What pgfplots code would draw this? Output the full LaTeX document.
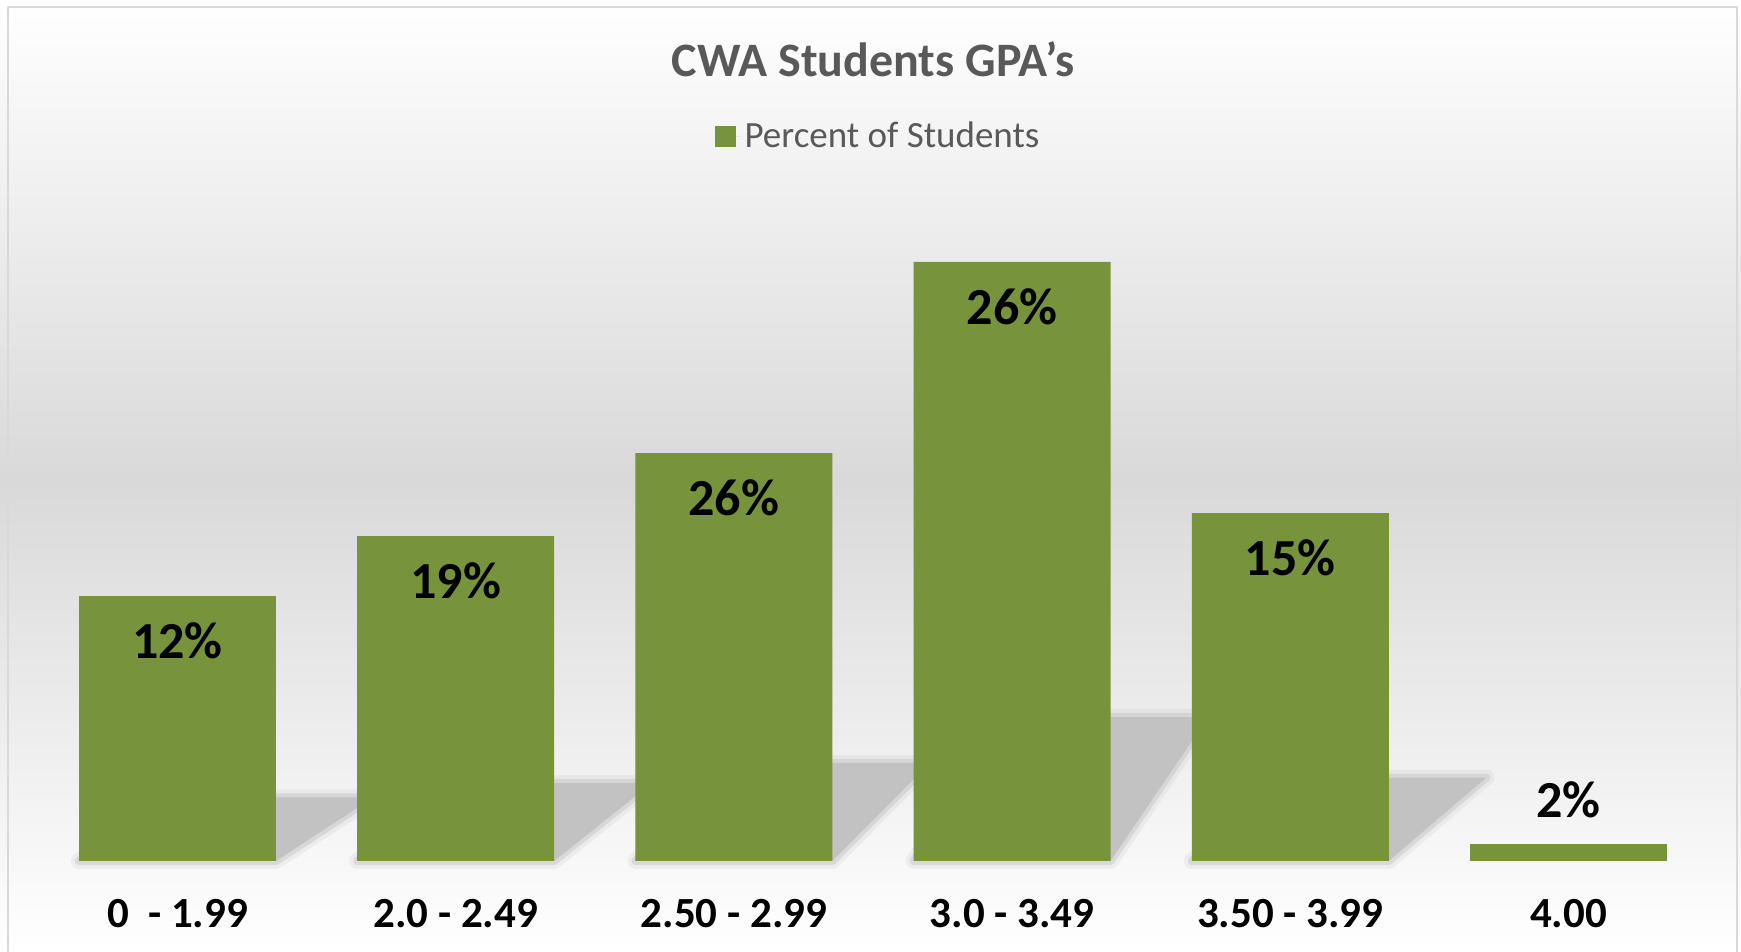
\documentclass[border=0pt]{standalone}
\usepackage{pgfplots}
\pgfplotsset{compat=1.18}
\usepackage{fontspec}
\setmainfont{Carlito}
\definecolor{barg}{RGB}{119,147,60}
\definecolor{txtg}{RGB}{89,89,89}
\definecolor{bgmid}{RGB}{217,217,217}
\definecolor{shad}{RGB}{194,194,194}
\definecolor{frm}{RGB}{217,217,217}
\pgfplotsset{
  shadowouter/.style={draw=shad, line width=8pt, draw opacity=0.2, fill=none, line join=round, forget plot},
  shadowmid/.style={draw=shad, line width=4pt, draw opacity=0.45, fill=none, line join=round, forget plot},
  shadowfill/.style={fill=shad, draw=none, forget plot},
}
\begin{document}
\begin{tikzpicture}
\path[use as bounding box] (0pt,0pt) rectangle (870.5pt,476pt);
\shade[top color=white, bottom color=bgmid] (0pt,236pt) rectangle (870.5pt,476pt);
\shade[top color=bgmid, bottom color=white] (0pt,0pt) rectangle (870.5pt,236.1pt);
\draw[frm, line width=1pt] (4pt,-2pt) -- (4pt,472.5pt) -- (868.5pt,472.5pt) -- (868.5pt,-2pt);
\begin{axis}[
  at={(19.2pt,45.5pt)}, anchor=south west,
  scale only axis, width=834.6pt, height=330.5pt,
  xmin=-0.5, xmax=5.5, ymin=0, ymax=28.69,
  axis line style={draw=none}, major tick length=0pt,
  ymajorticks=false,
  xtick={0,1,2,3,4,5},
  xticklabels={{0~~- 1.99},{2.0 - 2.49},{2.50 - 2.99},{3.0 - 3.49},{3.50 - 3.99},{4.00}},
  xticklabel style={anchor=base, yshift=-33.5pt, font=\fontsize{21.5}{26}\selectfont\bfseries, text=black},
  clip=false,
  title={CWA Students GPA’s},
  title style={at={(0.5,1)}, anchor=base, yshift=55.5pt, font=\fontsize{24}{28}\selectfont\bfseries, text=txtg},
  legend style={at={(0.5,1)}, anchor=center, xshift=3pt, yshift=31.75pt, draw=none, fill=none,
    font=\fontsize{18.5}{22}\selectfont, text=txtg},
  legend image code/.code={\fill[barg] (0pt,-5.25pt) rectangle (10.5pt,5.25pt); \path (0pt,0pt) -- (13pt,0pt);},
]
% perspective shadows (drawn behind the bars)
\addplot[shadowouter] coordinates {(-0.354,0) (0.354,0) (0.704,2.76) (-0.004,2.76)} -- cycle;
\addplot[shadowmid] coordinates {(-0.354,0) (0.354,0) (0.704,2.76) (-0.004,2.76)} -- cycle;
\addplot[shadowfill] coordinates {(-0.354,0) (0.354,0) (0.704,2.76) (-0.004,2.76)} -- cycle;
\addplot[shadowouter] coordinates {(0.646,0) (1.354,0) (1.704,3.38) (0.996,3.38)} -- cycle;
\addplot[shadowmid] coordinates {(0.646,0) (1.354,0) (1.704,3.38) (0.996,3.38)} -- cycle;
\addplot[shadowfill] coordinates {(0.646,0) (1.354,0) (1.704,3.38) (0.996,3.38)} -- cycle;
\addplot[shadowouter] coordinates {(1.646,0) (2.354,0) (2.704,4.25) (1.996,4.25)} -- cycle;
\addplot[shadowmid] coordinates {(1.646,0) (2.354,0) (2.704,4.25) (1.996,4.25)} -- cycle;
\addplot[shadowfill] coordinates {(1.646,0) (2.354,0) (2.704,4.25) (1.996,4.25)} -- cycle;
\addplot[shadowouter] coordinates {(2.646,0) (3.354,0) (3.704,6.24) (2.996,6.24)} -- cycle;
\addplot[shadowmid] coordinates {(2.646,0) (3.354,0) (3.704,6.24) (2.996,6.24)} -- cycle;
\addplot[shadowfill] coordinates {(2.646,0) (3.354,0) (3.704,6.24) (2.996,6.24)} -- cycle;
\addplot[shadowouter] coordinates {(3.646,0) (4.354,0) (4.704,3.62) (3.996,3.62)} -- cycle;
\addplot[shadowmid] coordinates {(3.646,0) (4.354,0) (4.704,3.62) (3.996,3.62)} -- cycle;
\addplot[shadowfill] coordinates {(3.646,0) (4.354,0) (4.704,3.62) (3.996,3.62)} -- cycle;
% bars
\addplot[ybar, bar width=0.708, bar shift=0pt, fill=barg, draw=none,
  point meta=explicit symbolic, nodes near coords,
  every node near coord/.append style={anchor=center, yshift=-22.5pt, font=\fontsize{26}{30}\selectfont\bfseries, text=black}]
  coordinates {(0,11.5) [12\%] (1,14.1) [19\%] (2,17.7) [26\%] (3,26.0) [26\%] (4,15.1) [15\%]};
\addlegendentry{Percent of Students}
\addplot[ybar, bar width=0.708, bar shift=0pt, fill=barg, draw=none, forget plot,
  point meta=explicit symbolic, nodes near coords,
  every node near coord/.append style={anchor=center, yshift=22pt, font=\fontsize{26}{30}\selectfont\bfseries, text=black}]
  coordinates {(5,0.74) [2\%]};
\end{axis}
\end{tikzpicture}
\end{document}
